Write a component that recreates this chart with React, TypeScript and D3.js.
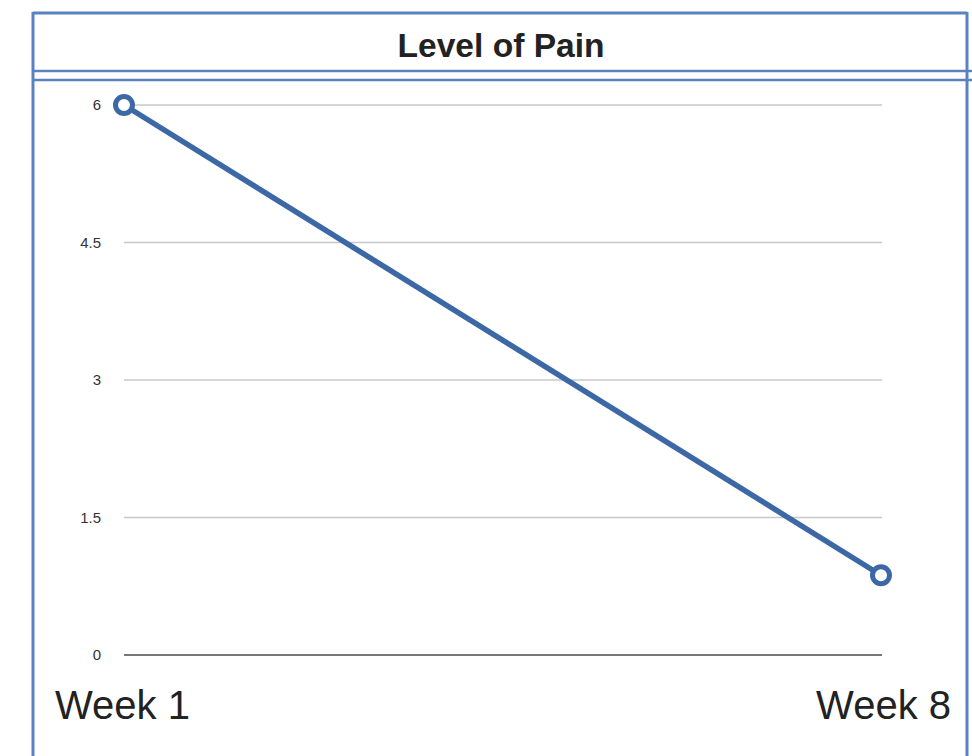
import React from "react";
import * as d3 from "d3";

const categories = ["Week 1", "Week 8"];
const painValues = [6, 0.87];
const yTicks = [0, 1.5, 3, 4.5, 6];
const titleText = "Level of Pain";

const W = 972;
const H = 756;

export default function App() {
  const x = d3.scalePoint<string>().domain(categories).range([124, 881]);
  const y = d3.scaleLinear().domain([0, 6]).range([655, 105]);
  const line = d3
    .line<number>()
    .x((_, i) => x(categories[i]) as number)
    .y((d) => y(d));
  const blue = "#3d68a6";
  const border = "#5b82c0";
  return (
    <svg
      width={W}
      height={H}
      style={{ position: "absolute", left: 0, top: 0, background: "#fff" }}
      fontFamily="Liberation Sans, Arial, sans-serif"
    >
      <rect x={0} y={0} width={W} height={H} fill="#fff" />
      {/* frame */}
      <line x1={33} y1={13} x2={967} y2={13} stroke={border} strokeWidth={3} />
      <line x1={33} y1={12} x2={33} y2={H} stroke={border} strokeWidth={3} />
      <line x1={967} y1={12} x2={967} y2={H} stroke={border} strokeWidth={3} />
      <line x1={33} y1={71} x2={972} y2={71} stroke={border} strokeWidth={2.5} />
      <line x1={33} y1={80} x2={972} y2={80} stroke={border} strokeWidth={2.5} />
      <text
        x={501}
        y={57}
        textAnchor="middle"
        fontSize={33}
        fontWeight={600}
        fontFamily="Liberation Sans Narrow, Liberation Sans, Arial, sans-serif"
        fill="#222"
        textLength={207}
        lengthAdjust="spacingAndGlyphs"
      >
        {titleText}
      </text>
      {/* grid */}
      {yTicks.map((t) => (
        <g key={t}>
          <line
            x1={124}
            x2={882}
            y1={y(t)}
            y2={y(t)}
            stroke={t === 0 ? "#777" : "#c8c8c8"}
            strokeWidth={t === 0 ? 2 : 1.5}
          />
          <text
            x={101}
            y={y(t)}
            dy="0.35em"
            textAnchor="end"
            fontSize={15}
            fill="#333"
          >
            {String(t)}
          </text>
        </g>
      ))}
      {/* category labels */}
      <text x={55} y={719} fontSize={40} fill="#222">
        {categories[0]}
      </text>
      <text x={951} y={719} fontSize={40} fill="#222" textAnchor="end">
        {categories[1]}
      </text>
      {/* series */}
      <path d={line(painValues) || ""} fill="none" stroke={blue} strokeWidth={5.5} />
      {painValues.map((v, i) => (
        <circle
          key={i}
          cx={x(categories[i]) as number}
          cy={y(v)}
          r={8.5}
          fill="#fff"
          stroke={blue}
          strokeWidth={5}
        />
      ))}
    </svg>
  );
}
